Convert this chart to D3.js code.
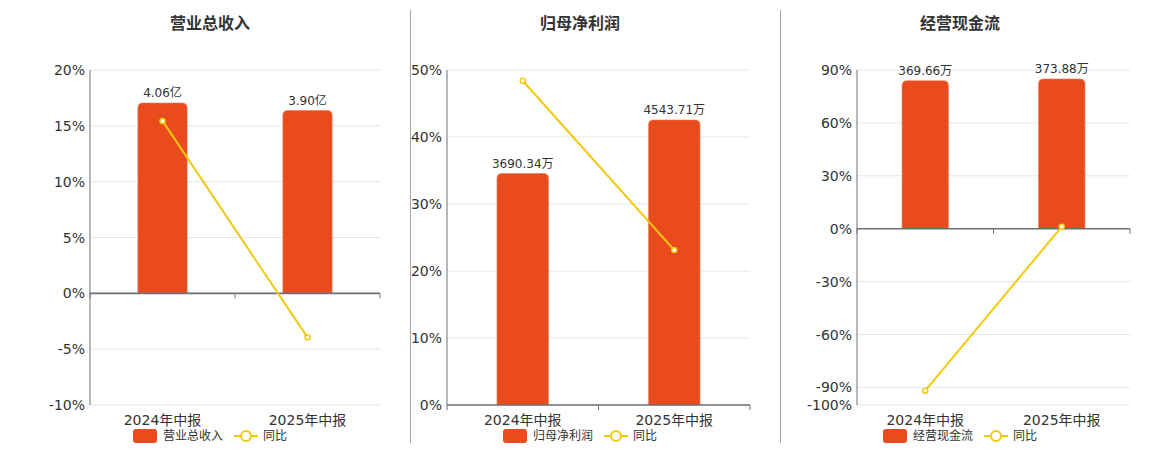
<!DOCTYPE html>
<html lang="zh">
<head>
  <meta charset="utf-8">
  <title>财务概览</title>
  <script src="https://cdn.jsdelivr.net/npm/d3@7/dist/d3.min.js"></script>
  <style>
  body { margin: 0; background: #fff; }
  text { font-family: "DejaVu Sans", "Noto Sans CJK SC", sans-serif; fill: #333; }
  .title { font-size: 16px; font-weight: bold; font-family: "Noto Sans CJK SC", sans-serif; }
  .tick-label { font-size: 14px; }
  .bar-label { font-size: 12px; }
  .legend-text { font-size: 12px; font-family: "Noto Sans CJK SC", sans-serif; }
  </style>
</head>
<body>
<script>
// data
var categories = ["2024年中报", "2025年中报"];

var revenueValues = [4.06, 3.90];      // 亿
var revenueYoy = [15.44, -3.94];       // %
var revenueTicks = [-10, -5, 0, 5, 10, 15, 20];

var profitValues = [3690.34, 4543.71]; // 万
var profitYoy = [48.4, 23.12];
var profitTicks = [0, 10, 20, 30, 40, 50];

var cashValues = [369.66, 373.88];     // 万
var cashYoy = [-91.9, 1.14];
var cashTicks = [-100, -90, -60, -30, 0, 30, 60, 90];

var width = 1160, height = 450;
var barColor = "#e94b1c";
var lineColor = "#f2c90f";

var panels = [
  { title: "营业总收入", center: 210, left: 90, right: 380, values: revenueValues, unit: "亿",
    yoy: revenueYoy, ticks: revenueTicks, barMax: 4.765 },
  { title: "归母净利润", center: 580, left: 447, right: 750, values: profitValues, unit: "万",
    yoy: profitYoy, ticks: profitTicks, barMax: 5341 },
  { title: "经营现金流", center: 960, left: 857, right: 1130, values: cashValues, unit: "万",
    yoy: cashYoy, ticks: cashTicks, barMax: 396.3 }
];

var plotTop = 70, plotBottom = 405;

var svg = d3.select("body")
  .append("svg")
  .attr("width", width)
  .attr("height", height);

// panel dividers
[410.5, 780.5].forEach(function(x) {
  svg.append("line")
    .attr("x1", x).attr("x2", x)
    .attr("y1", 10).attr("y2", 443)
    .attr("stroke", "#a8a8a8");
});

// rounded-top bar path
function barPath(x, y, w, h, r) {
  r = Math.min(r, h, w / 2);
  return "M" + x + "," + (y + h) +
    "V" + (y + r) +
    "Q" + x + "," + y + " " + (x + r) + "," + y +
    "H" + (x + w - r) +
    "Q" + (x + w) + "," + y + " " + (x + w) + "," + (y + r) +
    "V" + (y + h) + "Z";
}

panels.forEach(function(p) {
  var g = svg.append("g");

  var x = d3.scaleBand()
    .domain(categories)
    .range([p.left, p.right]);

  var y = d3.scaleLinear()
    .domain(d3.extent(p.ticks))
    .range([plotBottom, plotTop]);

  var zeroY = y(0);

  var yBar = d3.scaleLinear()
    .domain([0, p.barMax])
    .range([zeroY, plotTop]);

  // title
  g.append("text")
    .attr("class", "title")
    .attr("x", p.center)
    .attr("y", 29)
    .attr("text-anchor", "middle")
    .text(p.title);

  // grid lines
  g.selectAll(".grid")
    .data(p.ticks)
    .enter()
    .append("line")
    .attr("x1", p.left).attr("x2", p.right)
    .attr("y1", function(d) { return y(d); })
    .attr("y2", function(d) { return y(d); })
    .attr("stroke", "#e0e6f1");

  // y tick labels
  g.selectAll(".tick-label")
    .data(p.ticks)
    .enter()
    .append("text")
    .attr("class", "tick-label")
    .attr("x", p.left - 5)
    .attr("y", function(d) { return y(d); })
    .attr("dy", "0.36em")
    .attr("text-anchor", "end")
    .text(function(d) { return d + "%"; });

  // y axis line
  g.append("line")
    .attr("x1", p.left).attr("x2", p.left)
    .attr("y1", plotTop).attr("y2", plotBottom)
    .attr("stroke", "#6e7079");

  // bars
  var bw = x.bandwidth() * 0.34;
  g.selectAll(".bar")
    .data(p.values)
    .enter()
    .append("path")
    .attr("fill", barColor)
    .attr("stroke", "#f07a55")
    .attr("stroke-width", 0.6)
    .attr("d", function(d, i) {
      var bx = x(categories[i]) + (x.bandwidth() - bw) / 2;
      var by = yBar(d);
      return barPath(bx, by, bw, zeroY - by, 5);
    });

  // bar labels
  g.selectAll(".bar-label")
    .data(p.values)
    .enter()
    .append("text")
    .attr("class", "bar-label")
    .attr("x", function(d, i) { return x(categories[i]) + x.bandwidth() / 2; })
    .attr("y", function(d) { return yBar(d) - 6; })
    .attr("text-anchor", "middle")
    .text(function(d) { return d.toFixed(2) + p.unit; });

  // x axis at zero
  g.append("line")
    .attr("x1", p.left).attr("x2", p.right)
    .attr("y1", zeroY).attr("y2", zeroY)
    .attr("stroke", "#6e7079")
    .attr("stroke-width", 1.6);

  var boundaries = [p.left, p.left + x.step(), p.right];
  g.selectAll(".xtick")
    .data(boundaries)
    .enter()
    .append("line")
    .attr("x1", function(d) { return d; })
    .attr("x2", function(d) { return d; })
    .attr("y1", zeroY).attr("y2", zeroY + 5)
    .attr("stroke", "#6e7079");

  // x labels
  g.selectAll(".x-label")
    .data(categories)
    .enter()
    .append("text")
    .attr("class", "tick-label")
    .attr("x", function(d) { return x(d) + x.bandwidth() / 2; })
    .attr("y", 425)
    .attr("text-anchor", "middle")
    .text(function(d) { return d; });

  // yoy line
  var line = d3.line()
    .x(function(d, i) { return x(categories[i]) + x.bandwidth() / 2; })
    .y(function(d) { return y(d); });

  g.append("path")
    .datum(p.yoy)
    .attr("fill", "none")
    .attr("stroke", lineColor)
    .attr("stroke-width", 2)
    .attr("d", line);

  g.selectAll(".pt")
    .data(p.yoy)
    .enter()
    .append("circle")
    .attr("cx", function(d, i) { return x(categories[i]) + x.bandwidth() / 2; })
    .attr("cy", function(d) { return y(d); })
    .attr("r", 2.5)
    .attr("fill", "#fff")
    .attr("stroke", lineColor)
    .attr("stroke-width", 1.5);

  // legend
  var lx = p.center - 77, ly = 436;
  g.append("rect")
    .attr("x", lx).attr("y", ly - 7)
    .attr("width", 24).attr("height", 14)
    .attr("rx", 3)
    .attr("fill", barColor);
  g.append("text")
    .attr("class", "legend-text")
    .attr("x", lx + 30).attr("y", ly)
    .attr("dy", "0.35em")
    .text(p.title);
  g.append("line")
    .attr("x1", lx + 101).attr("x2", lx + 125)
    .attr("y1", ly).attr("y2", ly)
    .attr("stroke", lineColor)
    .attr("stroke-width", 2);
  g.append("circle")
    .attr("cx", lx + 113).attr("cy", ly)
    .attr("r", 5)
    .attr("fill", "#fff")
    .attr("stroke", lineColor)
    .attr("stroke-width", 2);
  g.append("text")
    .attr("class", "legend-text")
    .attr("x", lx + 130).attr("y", ly)
    .attr("dy", "0.35em")
    .text("同比");
});
</script>
</body>
</html>
